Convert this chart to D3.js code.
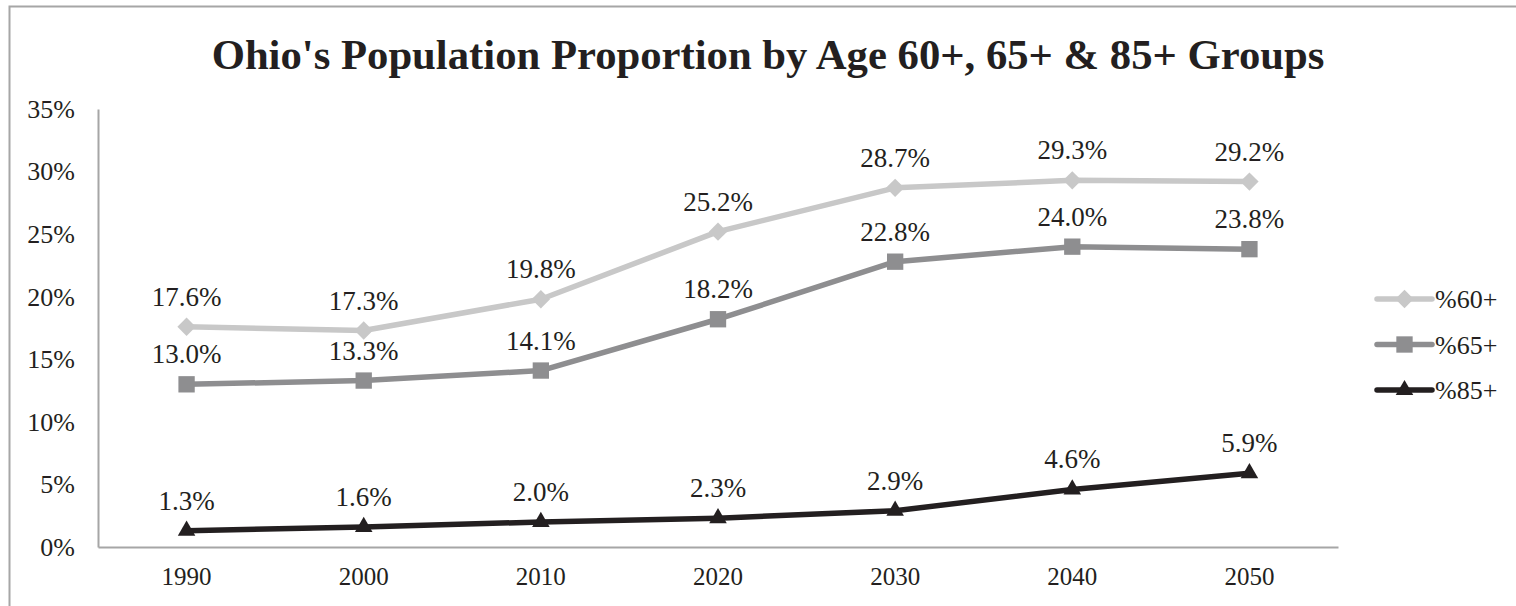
<!DOCTYPE html>
<html>
<head>
<meta charset="utf-8">
<script src="https://cdn.jsdelivr.net/npm/d3@7"></script>
<style>
  body { margin: 0; background: #fff; }
  text { font-family: "Liberation Serif", "Times New Roman", serif; fill: #231f20; }
</style>
</head>
<body>
<svg id="chart" width="1516" height="606"></svg>
<script>
var years = ["1990", "2000", "2010", "2020", "2030", "2040", "2050"];
var pct60 = [17.6, 17.3, 19.8, 25.2, 28.7, 29.3, 29.2];
var pct65 = [13.0, 13.3, 14.1, 18.2, 22.8, 24.0, 23.8];
var pct85 = [1.3, 1.6, 2.0, 2.3, 2.9, 4.6, 5.9];
var yTicks = [0, 5, 10, 15, 20, 25, 30, 35];
var seriesNames = ["%60+", "%65+", "%85+"];

var series = [
  {name: seriesNames[0], values: pct60, color: "#c8c8c8", symbol: d3.symbolDiamond2, size: 215},
  {name: seriesNames[1], values: pct65, color: "#8e8e90", symbol: d3.symbolSquare2, size: 340},
  {name: seriesNames[2], values: pct85, color: "#231f20", symbol: d3.symbolTriangle2, size: 220}
];

var svg = d3.select("#chart"),
    margin = {top: 109, right: 178, bottom: 59, left: 98},
    width = +svg.attr("width") - margin.left - margin.right,
    height = +svg.attr("height") - margin.top - margin.bottom;

// outer chart border (runs off the right and bottom edges)
svg.append("rect")
    .attr("x", 9.5).attr("y", 6.5)
    .attr("width", 1520).attr("height", 620)
    .attr("fill", "none")
    .attr("stroke", "#a6a6a6")
    .attr("stroke-width", 2);

svg.append("text")
    .attr("x", 768)
    .attr("y", 69)
    .attr("text-anchor", "middle")
    .attr("font-size", "42.7px")
    .attr("font-weight", "bold")
    .text("Ohio's Population Proportion by Age 60+, 65+ & 85+ Groups");

var g = svg.append("g").attr("transform", "translate(" + margin.left + "," + margin.top + ")");

var x = d3.scaleBand()
    .domain(years)
    .range([0, width]);

var y = d3.scaleLinear()
    .domain([0, 35])
    .range([height, 0]);

// y axis
var yAxis = g.append("g")
    .call(d3.axisLeft(y).tickValues(yTicks).tickSize(0).tickPadding(23).tickFormat(function(d) { return d + "%"; }));
yAxis.select(".domain").attr("stroke", "#a6a6a6").attr("stroke-width", 2);
yAxis.selectAll("text").attr("font-size", "26px").attr("fill", "#231f20");

// x axis
var xAxis = g.append("g")
    .attr("transform", "translate(0," + height + ")")
    .call(d3.axisBottom(x).tickSize(0).tickPadding(20));
xAxis.select(".domain").attr("stroke", "#a6a6a6").attr("stroke-width", 2);
xAxis.selectAll("text").attr("font-size", "25px").attr("fill", "#231f20");

var line = d3.line()
    .x(function(d, i) { return x(years[i]) + x.bandwidth() / 2; })
    .y(function(d) { return y(d); });

series.forEach(function(s) {
  g.append("path")
      .datum(s.values)
      .attr("fill", "none")
      .attr("stroke", s.color)
      .attr("stroke-width", 5.5)
      .attr("stroke-linejoin", "round")
      .attr("stroke-linecap", "round")
      .attr("d", line);

  g.selectAll(null)
      .data(s.values)
    .enter().append("path")
      .attr("transform", function(d, i) { return "translate(" + (x(years[i]) + x.bandwidth() / 2) + "," + y(d) + ")"; })
      .attr("d", d3.symbol().type(s.symbol).size(s.size))
      .attr("fill", s.color);

  g.selectAll(null)
      .data(s.values)
    .enter().append("text")
      .attr("x", function(d, i) { return x(years[i]) + x.bandwidth() / 2; })
      .attr("y", function(d) { return y(d) - 21; })
      .attr("text-anchor", "middle")
      .attr("font-size", "27px")
      .text(function(d) { return d.toFixed(1) + "%"; });
});

// legend
var legend = svg.append("g").attr("transform", "translate(1377,299)");
series.forEach(function(s, i) {
  var row = legend.append("g").attr("transform", "translate(0," + (i * 45.5) + ")");
  row.append("line")
      .attr("x1", 0).attr("x2", 55)
      .attr("stroke", s.color)
      .attr("stroke-width", 5.5)
      .attr("stroke-linecap", "round");
  row.append("path")
      .attr("transform", "translate(27.5,0)")
      .attr("d", d3.symbol().type(s.symbol).size(s.size))
      .attr("fill", s.color);
  row.append("text")
      .attr("x", 58)
      .attr("dy", "0.35em")
      .attr("font-size", "26px")
      .text(s.name);
});
</script>
</body>
</html>
